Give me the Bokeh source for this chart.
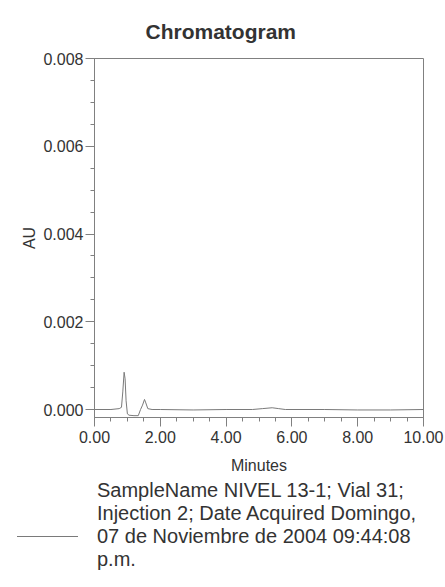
from bokeh.plotting import figure
from bokeh.layouts import column
from bokeh.models import (Range1d, SingleIntervalTicker, NumeralTickFormatter,
                          Title, Div)
from bokeh.embed import file_html
from bokeh.resources import INLINE

# ---- data ----
minutes = [0.00, 0.50, 0.75, 0.82, 0.86, 0.90, 0.93, 0.96, 1.00, 1.05, 1.20,
           1.33, 1.40, 1.46, 1.52, 1.56, 1.62, 1.75, 2.00, 3.00, 4.00, 4.80,
           5.10, 5.40, 5.60, 5.80, 7.00, 8.00, 9.00, 10.00]
au = [0.00000, 0.00000, 0.00002, 0.00005, 0.00040, 0.00085, 0.00070, 0.00020,
      -0.00010, -0.00013, -0.00014, -0.00014, 0.00000, 0.00010, 0.00023,
      0.00015, 0.00002, 0.00000, 0.00000, -0.00001, 0.00000, 0.00000,
      0.00002, 0.00004, 0.00002, 0.00000, 0.00000, -0.00001, -0.00001, 0.00000]
legend_lines = ["SampleName NIVEL 13-1; Vial 31;",
                "Injection 2; Date Acquired Domingo,",
                "07 de Noviembre de 2004 09:44:08",
                "p.m."]
title_text = "Chromatogram"
x_label = "Minutes"
y_label = "AU"

FONT = "Liberation Sans"
TXT = "#333333"
AXC = "#808080"
LINEC = "#7a7a7a"

p = figure(width=445, height=479, output_backend="svg",
           toolbar_location=None, sizing_mode="fixed",
           x_range=Range1d(0, 10), y_range=Range1d(-0.000182, 0.008),
           min_border_left=94, min_border_right=22, min_border_top=58,
           min_border_bottom=62, background_fill_color="white",
           border_fill_color="white", title=None)

p.add_layout(Title(text=title_text, text_font=FONT, text_font_size="21px",
                   text_font_style="bold", text_color=TXT, align="left",
                   offset=51, standoff=32), "above")

r = p.line(minutes, au, line_color=LINEC, line_width=1)

p.xgrid.visible = False
p.ygrid.visible = False
p.outline_line_color = AXC
p.outline_line_width = 1

for ax in (p.xaxis[0], p.yaxis[0]):
    ax.axis_line_color = AXC
    ax.major_tick_line_color = AXC
    ax.minor_tick_line_color = AXC
    ax.major_tick_in = 0
    ax.minor_tick_in = 0
    ax.major_tick_out = 9
    ax.minor_tick_out = 4
    ax.major_label_text_font = FONT
    ax.major_label_text_font_size = "16px"
    ax.major_label_text_color = TXT
    ax.axis_label_text_font = FONT
    ax.axis_label_text_font_style = "normal"
    ax.axis_label_text_color = TXT

p.xaxis.ticker = SingleIntervalTicker(interval=2, num_minor_ticks=4)
p.xaxis.formatter = NumeralTickFormatter(format="0.00")
p.xaxis.axis_label = x_label
p.xaxis.axis_label_text_font_size = "16px"
p.xaxis.major_label_standoff = 4
p.xaxis.axis_label_standoff = 11

p.yaxis.ticker = SingleIntervalTicker(interval=0.002, num_minor_ticks=4)
p.yaxis.formatter = NumeralTickFormatter(format="0.000")
p.yaxis.axis_label = y_label
p.yaxis.axis_label_text_font_size = "16px"
p.yaxis.major_label_standoff = 2
p.yaxis.axis_label_standoff = 2

# ---- legend block below the chart (HTML text, not clipped by the frame) ----
legend_html = (
    f'<div style="position:relative;width:445px;height:108px;'
    f'font-family:\'{FONT}\',Arial,sans-serif;font-size:20px;color:{TXT};'
    f'line-height:23px;">'
    f'<div style="position:absolute;left:17px;top:57px;width:61px;'
    f'border-top:1px solid {LINEC};"></div>'
    f'<div style="position:absolute;left:97px;top:0px;white-space:nowrap;">'
    + "<br>".join(legend_lines) +
    '</div></div>'
)
legend_div = Div(text=legend_html, width=445, height=108, margin=0)

layout = column(p, legend_div, spacing=0)
open("out.html", "w").write(file_html(layout, INLINE))
